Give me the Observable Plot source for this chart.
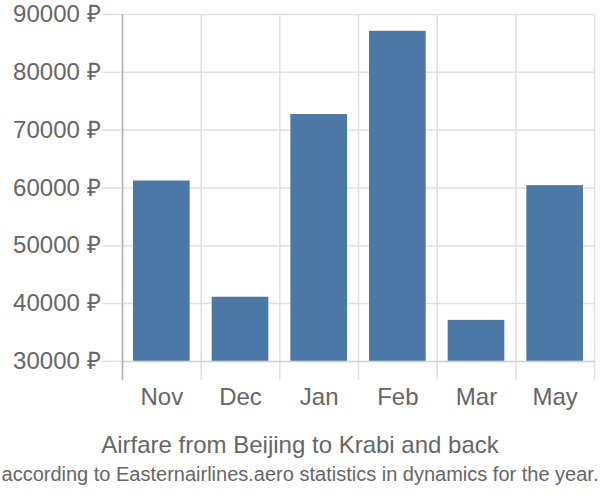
<!DOCTYPE html>
<html><head><meta charset="utf-8">
<script src="https://cdn.jsdelivr.net/npm/d3@7"></script>
<script src="https://cdn.jsdelivr.net/npm/@observablehq/plot@0.6"></script>
<style>
body{margin:0;background:#fff;font-family:"Liberation Sans",Arial,sans-serif;overflow:hidden;}
.t{text-align:center;color:#666;white-space:nowrap;line-height:1.2;}
#t1{font-size:24px;margin-top:21px;}
#t2{font-size:20px;margin-top:2px;}
</style>
</head><body>
<div id="c"></div>
<div class="t" id="t1">Airfare from Beijing to Krabi and back</div>
<div class="t" id="t2">according to Easternairlines.aero statistics in dynamics for the year.</div>
<script>
const months = ["Nov","Dec","Jan","Feb","Mar","May"];
const prices = [61200, 41100, 72700, 87100, 37100, 60400];
const yTicks = [30000, 40000, 50000, 60000, 70000, 80000, 90000];
const baseline = 30000;
const yMin = 26700;
const yMax = 90000;

const data = months.map((m, i) => ({m, i, p: prices[i]}));

const chart = Plot.plot({
  width: 600, height: 410,
  marginTop: 14, marginBottom: 30, marginLeft: 122, marginRight: 6,
  style: {fontFamily: "Liberation Sans, Arial, sans-serif", fontSize: "24px", color: "#666", background: "#fff", overflow: "visible"},
  x: {domain: [0, months.length], axis: null},
  y: {domain: [yMin, yMax], axis: null},
  marks: [
    Plot.ruleY(yTicks.slice(1), {stroke: "#e0e0e0", strokeWidth: 1.5}),
    Plot.ruleX(d3.range(months.length + 1), {stroke: "#e0e0e0", strokeWidth: 1.5}),
    Plot.rectY(data, {x1: d => d.i, x2: d => d.i + 1, y1: baseline, y2: "p", fill: "#4c78a8", insetLeft: 11, insetRight: 11}),
    Plot.ruleY([baseline], {stroke: "#d0d0d0", strokeWidth: 1.5}),
    Plot.ruleX([0], {stroke: "#b0b0b0", strokeWidth: 1.5}),
    Plot.axisY({ticks: yTicks, label: null, tickSize: 20, tickPadding: 2, stroke: "#e0e0e0", strokeWidth: 1.5, fill: "#666", fontSize: 24, tickFormat: d => d + " ₽"}),
    Plot.axisX({ticks: months.map((_, i) => i + 0.5), label: null, tickSize: 0, tickPadding: 7, fill: "#666", fontSize: 24, tickFormat: d => months[Math.floor(d)]})
  ]
});
document.getElementById("c").appendChild(chart);
</script>
</body></html>
